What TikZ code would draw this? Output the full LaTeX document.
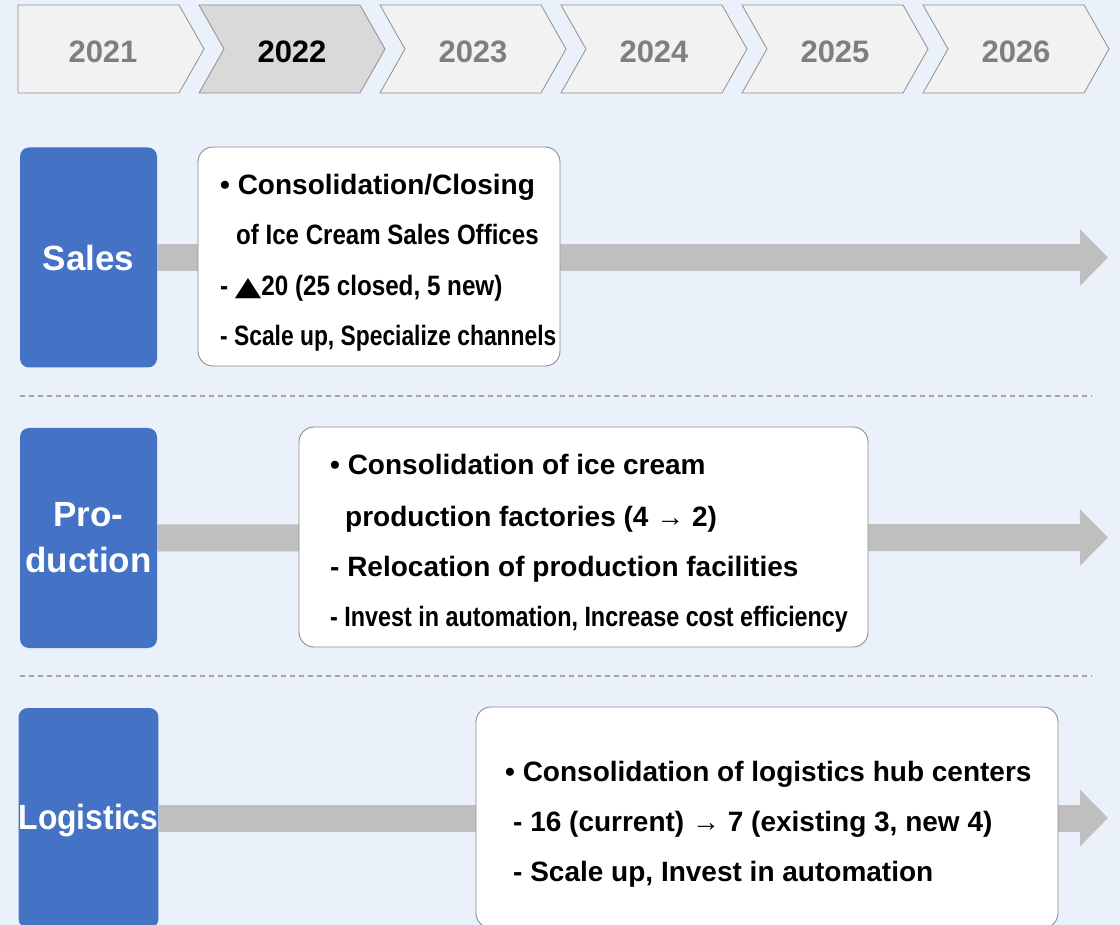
\documentclass[tikz,border=0pt]{standalone}
\usepackage{fontspec}
\setmainfont{Liberation Sans}
\newfontfamily\symfont{DejaVu Sans}
\usetikzlibrary{arrows.meta}
\definecolor{bg}{HTML}{EAF1FA}
\definecolor{chev}{HTML}{F2F2F2}
\definecolor{chevsel}{HTML}{D9D9D9}
\definecolor{chevline}{HTML}{8F8F8F}
\definecolor{yeargray}{HTML}{7F7F7F}
\definecolor{blueb}{HTML}{4472C4}
\definecolor{arrowgray}{HTML}{BFBFBF}
\definecolor{boxline}{HTML}{8C8C8C}
\definecolor{dashgray}{HTML}{A6A6A6}
\begin{document}
\begin{tikzpicture}[x=1pt,y=-1pt,
  chevron/.style={fill=chev,draw=chevline,line width=0.8pt},
  yeartext/.style={font=\fontsize{31}{36}\selectfont\bfseries,text=yeargray,inner sep=0pt},
  bluebox/.style={fill=blueb,rounded corners=9pt,minimum width=137pt,minimum height=220pt,inner sep=0pt,text=white,font=\fontsize{35}{46}\selectfont\bfseries,align=center},
  contentbox/.style={fill=white,draw=boxline,line width=0.9pt,rounded corners=15pt,inner sep=0pt},
  linetext/.style={anchor=base west,inner sep=0pt,font=\fontsize{28}{34}\selectfont\bfseries},
  bigarrow/.style={draw=arrowgray,line width=27pt,-{Triangle[length=28pt,width=55pt]}},
  sepline/.style={draw=dashgray,line width=1.2pt,dash pattern=on 5pt off 4pt}
]
\useasboundingbox (0,0) rectangle (1120,925);
\fill[bg] (0,0) rectangle (1120,925);
\clip (0,0) rectangle (1120,925);

% timeline chevrons
\draw[chevron] (18,5) -- (179,5) -- (204,49) -- (179,93) -- (18,93) -- cycle;
\node[yeartext] (y2021) at (103,51.5) {2021};
\foreach \i/\yr/\fc/\tc in {1/2022/chevsel/black,2/2023/chev/yeargray,3/2024/chev/yeargray,4/2025/chev/yeargray,5/2026/chev/yeargray}{
  \pgfmathsetmacro{\L}{18+181*\i}
  \draw[chevron,fill=\fc] (\L,5) -- ({\L+161},5) -- ({\L+186},49) -- ({\L+161},93) -- (\L,93) -- ({\L+25},49) -- cycle;
  \node[yeartext,text=\tc] (y\yr) at ({\L+93},51.5) {\yr};
}

% separators
\draw[sepline] (20,396) -- (1092,396);
\draw[sepline] (20,676) -- (1092,676);

% row labels
\node[bluebox] (sales) at (88.5,257.5) {Sales};
\node[bluebox] (prod) at (88.5,538) {Pro-\\duction};
\node[bluebox] (logi) at (88.5,818) {\raisebox{-2.5pt}[\height][\depth]{\scalebox{0.91}[1]{Logistics}}};

% arrows
\coordinate (salesend) at (1108,257.5);
\coordinate (prodend) at (1108,537.5);
\coordinate (logiend) at (1108,818);
\draw[bigarrow] (sales.east) -- (salesend);
\draw[bigarrow] (prod.east) -- (prodend);
\draw[bigarrow] (logi.east) -- (logiend);

% content boxes
\node[contentbox,minimum width=362pt,minimum height=219pt] (salesc) at (379,256.5) {};
\node[contentbox,minimum width=569pt,minimum height=220pt] (prodc) at (583.5,537) {};
\node[contentbox,minimum width=582pt,minimum height=221pt] (logic) at (767,817.5) {};

% sales text
\node[linetext] (s1) at (220,195) {• Consolidation/Closing};
\node[linetext] (s2) at (236,245) {\scalebox{0.86}[1]{of Ice Cream Sales Offices}};
\node[linetext] (s3) at (220,296) {\scalebox{0.865}[1]{- \scalebox{1.5}[1]{\symfont\fontsize{26.5}{30}\selectfont▲}20 (25 closed, 5 new)}};
\node[linetext] (s4) at (220,346) {\scalebox{0.815}[1]{- Scale up, Specialize channels}};

% production text
\node[linetext] (p1) at (330,475) {• Consolidation of ice cream};
\node[linetext] (p2) at (345,526) {production factories (4 → 2)};
\node[linetext] (p3) at (330,576) {- Relocation of production facilities};
\node[linetext] (p4) at (330,626) {\scalebox{0.834}[1]{- Invest in automation, Increase cost efficiency}};

% logistics text
\node[linetext] (l1) at (505,781) {• Consolidation of logistics hub centers};
\node[linetext] (l2) at (513,831) {- 16 (current) → 7 (existing 3, new 4)};
\node[linetext] (l3) at (513,881) {- Scale up, Invest in automation};
\end{tikzpicture}
\end{document}
